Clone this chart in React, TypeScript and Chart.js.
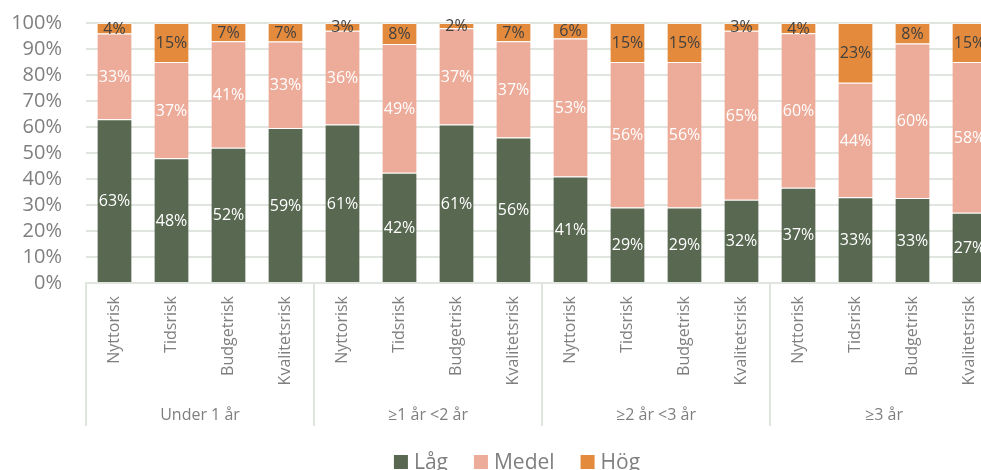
import { useEffect, useRef } from "react";
import { Chart, registerables } from "chart.js";

Chart.register(...registerables);

// Project duration groups and the risk types shown in each group
const groups = ["Under 1 år", "≥1 år <2 år", "≥2 år <3 år", "≥3 år"];
const riskTypes = ["Nyttorisk", "Tidsrisk", "Budgetrisk", "Kvalitetsrisk"];
const categories = groups.flatMap(() => riskTypes);

// Share of answers per level (%), in category order
const lag = [63, 48, 52, 59, 61, 42, 61, 56, 41, 29, 29, 32, 37, 33, 33, 27];
const medel = [33, 37, 41, 33, 36, 49, 37, 37, 53, 56, 56, 65, 60, 44, 60, 58];
const hog = [4, 15, 7, 7, 3, 8, 2, 7, 6, 15, 15, 3, 4, 23, 8, 15];

const seriesNames = ["Låg", "Medel", "Hög"];
const seriesColors = ["#586851", "#EDAC9A", "#E48A3C"];
const labelColors = ["#ffffff", "#ffffff", "#404040"];
const yTickValues = [0, 10, 20, 30, 40, 50, 60, 70, 80, 90, 100];

const FONT = "'Open Sans', 'Noto Sans', sans-serif";
const GRID = "#e1e5df";
const TEXT = "#7f7f7f";

const rawSeries = [lag, medel, hog];
const totals = categories.map((_, i) => lag[i] + medel[i] + hog[i]);
// 100 % stacked: each bar is scaled to its own total
const shares = rawSeries.map((s) => s.map((v, i) => (v / totals[i]) * 100));

const valueLabels = {
  id: "valueLabels",
  afterDatasetsDraw(chart: any) {
    const ctx = chart.ctx;
    ctx.save();
    ctx.font = `16px ${FONT}`;
    ctx.textAlign = "center";
    ctx.textBaseline = "middle";
    chart.data.datasets.forEach((ds: any, di: number) => {
      const meta = chart.getDatasetMeta(di);
      meta.data.forEach((el: any, i: number) => {
        const { x, y, base } = el.getProps(["x", "y", "base"], true);
        ctx.fillStyle = labelColors[di];
        ctx.fillText(`${rawSeries[di][i]}%`, x, (y + base) / 2 + 1);
      });
    });
    ctx.restore();
  },
};

const groupAxis = {
  id: "groupAxis",
  afterDraw(chart: any) {
    const ctx = chart.ctx;
    const xs = chart.scales.x;
    const bottom = chart.chartArea.bottom;
    const step = xs.getPixelForValue(1) - xs.getPixelForValue(0);
    ctx.save();
    ctx.strokeStyle = GRID;
    ctx.lineWidth = 2;
    for (let g = 0; g <= groups.length; g++) {
      const xPos = xs.getPixelForValue(g * riskTypes.length) - step / 2;
      ctx.beginPath();
      ctx.moveTo(xPos, bottom);
      ctx.lineTo(xPos, bottom + 143);
      ctx.stroke();
    }
    ctx.fillStyle = TEXT;
    ctx.font = `16px ${FONT}`;
    ctx.textAlign = "center";
    ctx.textBaseline = "middle";
    groups.forEach((name, g) => {
      const first = xs.getPixelForValue(g * riskTypes.length);
      const last = xs.getPixelForValue(g * riskTypes.length + riskTypes.length - 1);
      ctx.fillText(name, (first + last) / 2, bottom + 132);
    });
    ctx.restore();
  },
};

const bottomLegend = {
  id: "bottomLegend",
  afterDraw(chart: any) {
    const ctx = chart.ctx;
    ctx.save();
    ctx.font = `21px ${FONT}`;
    ctx.textBaseline = "middle";
    ctx.textAlign = "left";
    const box = 14;
    const gap = 6;
    const spacing = 26;
    const widths = seriesNames.map((n) => ctx.measureText(n).width);
    const total =
      widths.reduce((a, w) => a + box + gap + w, 0) + spacing * (seriesNames.length - 1);
    let x = 517 - total / 2;
    const cy = 463;
    seriesNames.forEach((n, i) => {
      ctx.fillStyle = seriesColors[i];
      ctx.fillRect(x, cy - box / 2 - 1, box, box);
      ctx.fillStyle = TEXT;
      ctx.fillText(n, x + box + gap, cy);
      x += box + gap + widths[i] + spacing;
    });
    ctx.restore();
  },
};

export default function App() {
  const ref = useRef<HTMLCanvasElement>(null);

  useEffect(() => {
    if (!ref.current) return;
    const chart = new Chart(ref.current, {
      type: "bar",
      data: {
        labels: categories,
        datasets: seriesNames.map((name, i) => ({
          label: name,
          data: shares[i],
          backgroundColor: seriesColors[i],
          borderColor: "rgba(255,255,255,0.55)",
          borderWidth: { top: 1, right: 0, bottom: 0, left: 0 },
          borderSkipped: false,
          categoryPercentage: 1,
          barPercentage: 0.6,
        })),
      },
      options: {
        responsive: false,
        animation: false,
        devicePixelRatio: 1,
        layout: { padding: { top: 23, left: 0, right: 31, bottom: 42 } },
        plugins: {
          legend: { display: false },
          tooltip: { enabled: false },
        },
        scales: {
          x: {
            stacked: true,
            grid: { display: false, drawTicks: false },
            border: { display: true, color: GRID, width: 2 },
            ticks: {
              autoSkip: false,
              maxRotation: 90,
              minRotation: 90,
              padding: 13,
              color: TEXT,
              font: { family: FONT, size: 16 },
            },
            afterFit(scale: any) {
              scale.height = 145;
            },
          },
          y: {
            stacked: true,
            min: 0,
            max: 100,
            afterBuildTicks(scale: any) {
              scale.ticks = yTickValues.map((v) => ({ value: v }));
            },
            grid: { color: GRID, lineWidth: 2, drawTicks: false },
            border: { display: false },
            ticks: {
              autoSkip: false,
              padding: 24,
              color: TEXT,
              font: { family: FONT, size: 20 },
              callback: (v: any) => `${v}%`,
            },
            afterFit(scale: any) {
              scale.width = 86;
              scale.paddingTop = 0;
              scale.paddingBottom = 0;
            },
          },
        },
      },
      plugins: [valueLabels, groupAxis, bottomLegend],
    });
    return () => chart.destroy();
  }, []);

  return (
    <div
      style={{
        position: "fixed",
        top: 0,
        left: 0,
        width: 981,
        height: 470,
        overflow: "hidden",
        background: "#ffffff",
      }}
    >
      <canvas ref={ref} width={1029} height={470} style={{ display: "block" }} />
    </div>
  );
}
